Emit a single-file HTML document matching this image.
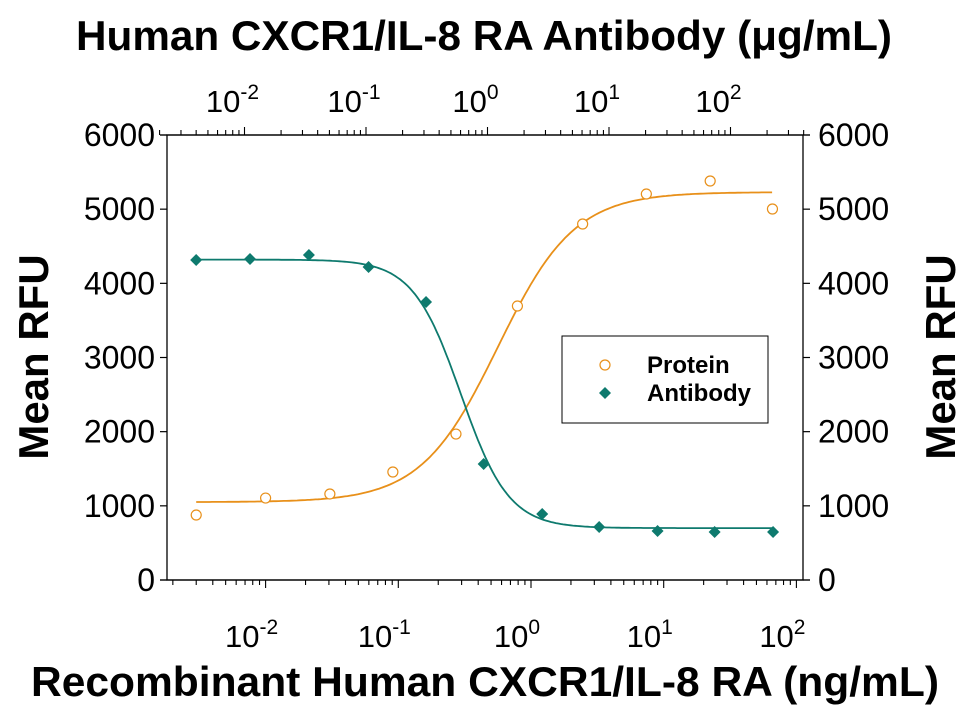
<!DOCTYPE html>
<html><head><meta charset="utf-8"><style>
body{margin:0;background:#fff;}
svg{display:block;font-family:"Liberation Sans",Arial,sans-serif;}
</style></head><body>
<svg id="chart" width="970" height="713" viewBox="0 0 970 713" xmlns="http://www.w3.org/2000/svg">
<g id="axes"></g>
<g id="marks"></g>
<text x="484" y="50" text-anchor="middle" font-size="42" font-weight="bold" textLength="816" lengthAdjust="spacingAndGlyphs">Human CXCR1/IL-8 RA Antibody (μg/mL)</text>
<text x="485" y="696" text-anchor="middle" font-size="42" font-weight="bold" textLength="908" lengthAdjust="spacingAndGlyphs">Recombinant Human CXCR1/IL-8 RA (ng/mL)</text>
<text transform="translate(48,357) rotate(-90)" text-anchor="middle" font-size="42" font-weight="bold">Mean RFU</text>
<text transform="translate(955,357) rotate(-90)" text-anchor="middle" font-size="42" font-weight="bold">Mean RFU</text>
<g>
<rect x="562" y="336" width="206" height="87" fill="#fff" stroke="#000" stroke-width="1"/>
<circle cx="605" cy="365" r="5" fill="none" stroke="#E8901A" stroke-width="1.2"/>
<text x="647" y="373" font-size="24" font-weight="bold">Protein</text>
<polygon points="605,387 611,393 605,399 599,393" fill="#0E7A6E"/>
<text x="647" y="401" font-size="24" font-weight="bold">Antibody</text>
</g>
</svg>
<script>
// Data
const proteinConc = [0.003, 0.01, 0.0305, 0.091, 0.272, 0.79, 2.45, 7.4, 22.4, 66];
const proteinRFU = [876, 1105, 1160, 1456, 1968, 3694, 4800, 5204, 5380, 5002];
const antibodyConc = [0.004, 0.0111, 0.0339, 0.105, 0.312, 0.93, 2.82, 8.3, 25.1, 74, 224];
const antibodyRFU = [4314, 4328, 4382, 4220, 3748, 1564, 890, 714, 661, 647, 647];
const proteinFit = {bottom:1050, top:5230, logEC50:-0.25, hill:1.5};
const antibodyFit = {bottom:700, top:4320, logEC50:-0.22, hill:2.2};
const yTicks = [0,1000,2000,3000,4000,5000,6000];
const decadeExps = [-2,-1,0,1,2];

const NS='http://www.w3.org/2000/svg';
const L=167,R=803,T=135,B=580;
function yS(v){return B-(v/6000)*(B-T);}
function xBot(c){return 531+Math.log10(c)*132.7;}
function xTop(c){return 487.5+Math.log10(c)*121.5;}
function mk(tag,attrs,parent){const e=document.createElementNS(NS,tag);for(const k in attrs)e.setAttribute(k,attrs[k]);parent.appendChild(e);return e;}
const axes=document.getElementById('axes'),marks=document.getElementById('marks');

let box=mk('rect',{x:L,y:T,width:R-L,height:B-T,fill:'none',stroke:'#000','stroke-width':1.3},axes);



yTicks.forEach(v=>{
  const y=yS(v);
  let t=mk('line',{x1:L-7,x2:L,y1:y,y2:y,stroke:'#000','stroke-width':1.2},axes);
  
  
  let t2=mk('line',{x1:R,x2:R+7,y1:y,y2:y,stroke:'#000','stroke-width':1.2},axes);
  
  
  let lb=mk('text',{x:L-12,y:y+11,'text-anchor':'end','font-size':32},axes);
  lb.textContent=v;
  
  
  let lb2=mk('text',{x:R+15,y:y+11,'text-anchor':'start','font-size':32},axes);
  lb2.textContent=v;
  
  
});

let bl=mk('line',{x1:160,x2:810,y1:B,y2:B,stroke:'#000','stroke-width':1.3},axes);


let tl=mk('line',{x1:160,x2:810,y1:T,y2:T,stroke:'#000','stroke-width':1.3},axes);


for(let e=-3;e<=2;e++){for(let m=1;m<10;m++){
  const c=m*Math.pow(10,e);
  const xb=xBot(c);
  if(xb>=L-8&&xb<=R+2){
    let tk=mk('line',{x1:xb,x2:xb,y1:B,y2:B+(m==1?8:5),stroke:'#000','stroke-width':1.1},axes);
    
    
  }
  const xt=xTop(c);
  if(xt>=L-8&&xt<=R+2){
    let tk=mk('line',{x1:xt,x2:xt,y1:T,y2:T-(m==1?8:5),stroke:'#000','stroke-width':1.1},axes);
    
    
  }
}}
decadeExps.forEach(e=>{
  const c=Math.pow(10,e);
  let t=mk('text',{x:xBot(c)-14,y:647,'text-anchor':'middle','font-size':31},axes);
  t.innerHTML='10<tspan dy="-13" font-size="21">'+e+'</tspan>';
  
  
  let t2=mk('text',{x:xTop(c)-12,y:112,'text-anchor':'middle','font-size':31},axes);
  t2.innerHTML='10<tspan dy="-13" font-size="21">'+e+'</tspan>';
  
  
});

function fourPL(p,lx){return p.bottom+(p.top-p.bottom)/(1+Math.pow(10,p.hill*(p.logEC50-lx)));}
function fourPLdown(p,lx){return p.bottom+(p.top-p.bottom)/(1+Math.pow(10,p.hill*(lx-p.logEC50)));}
let d='';
for(let lx=Math.log10(proteinConc[0]);lx<=Math.log10(proteinConc[proteinConc.length-1]);lx+=0.02){
  d+=(d?'L':'M')+xBot(Math.pow(10,lx)).toFixed(1)+','+yS(fourPL(proteinFit,lx)).toFixed(1);
}
let pc=mk('path',{d:d,fill:'none',stroke:'#E8901A','stroke-width':1.8},marks);


d='';
for(let lx=Math.log10(antibodyConc[0]);lx<=Math.log10(antibodyConc[antibodyConc.length-1]);lx+=0.02){
  d+=(d?'L':'M')+xTop(Math.pow(10,lx)).toFixed(1)+','+yS(fourPLdown(antibodyFit,lx)).toFixed(1);
}
let ac=mk('path',{d:d,fill:'none',stroke:'#0E7A6E','stroke-width':1.8},marks);



proteinConc.forEach((c,i)=>{
  let p=mk('circle',{cx:xBot(c),cy:yS(proteinRFU[i]),r:5,fill:'#fff',stroke:'#E8901A','stroke-width':1.2},marks);
  
  
});
antibodyConc.forEach((c,i)=>{
  const x=xTop(c),y=yS(antibodyRFU[i]);
  let p=mk('polygon',{points:`${x},${y-6} ${x+6},${y} ${x},${y+6} ${x-6},${y}`,fill:'#0E7A6E'},marks);
  
  
});
</script>
</body></html>
